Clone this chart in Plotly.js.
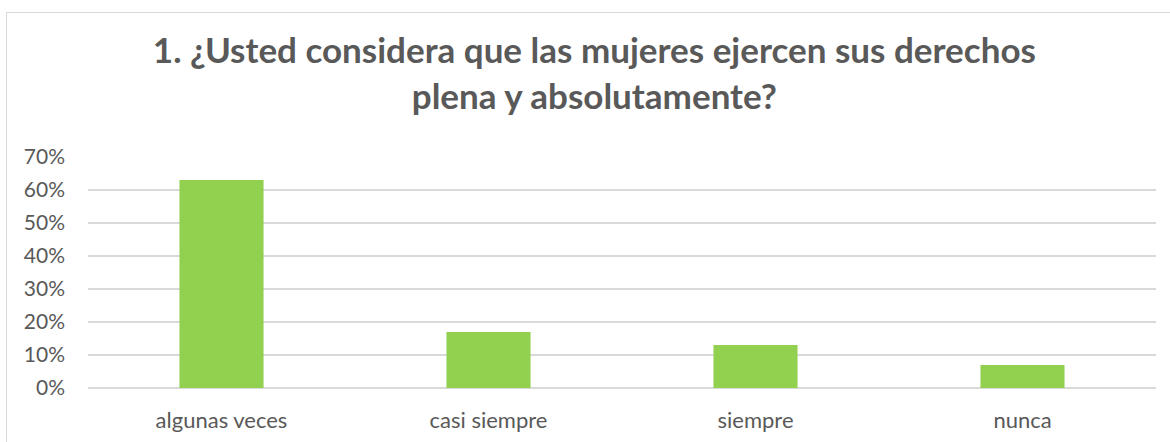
<!DOCTYPE html>
<html>
<head>
<meta charset="utf-8">
<script src="https://cdn.plot.ly/plotly-3.0.1.min.js"></script>
<style>
html,body{margin:0;padding:0;background:#fff;overflow:hidden;}
#wrap{position:relative;width:1170px;height:442px;}
#chart{width:1170px;height:442px;}
#frame{position:absolute;left:6px;top:12px;width:1200px;height:500px;border:1px solid #d9d9d9;pointer-events:none;box-sizing:border-box;}
</style>
</head>
<body>
<div id="wrap">
<div id="chart"></div>
<div id="frame"></div>
</div>
<script>
const categories = ["algunas veces", "casi siempre", "siempre", "nunca"];
const values = [0.63, 0.17, 0.13, 0.07];
const yTicks = [0, 0.1, 0.2, 0.3, 0.4, 0.5, 0.6, 0.7];
const titleText = "1. ¿Usted considera que las mujeres ejercen sus derechos<br>plena y absolutamente?";

const trace = {
  type: "bar",
  x: categories,
  y: values,
  width: 0.315,
  marker: {color: "#92D050", line: {width: 0}},
  hoverinfo: "skip"
};

const layout = {
  width: 1170,
  height: 442,
  margin: {l: 88, r: 14, t: 157, b: 54},
  paper_bgcolor: "#ffffff",
  plot_bgcolor: "#ffffff",
  showlegend: false,
  font: {family: "Lato, 'Open Sans', sans-serif", color: "#595959"},
  title: {
    text: titleText,
    font: {family: "Lato, 'Open Sans', sans-serif", size: 35, color: "#595959", weight: "bold"},
    x: 0.508,
    xanchor: "center",
    y: 0.857,
    yanchor: "top"
  },
  xaxis: {
    type: "category",
    showgrid: false,
    showline: false,
    zeroline: false,
    ticks: "",
    ticklabelstandoff: 17,
    tickfont: {size: 22, color: "#595959"}
  },
  yaxis: {
    range: [0, 0.7],
    tickvals: yTicks,
    tickformat: ".0%",
    showgrid: true,
    gridcolor: "#d9d9d9",
    gridwidth: 1.5,
    zeroline: true,
    zerolinecolor: "#d9d9d9",
    zerolinewidth: 1.5,
    showline: false,
    ticks: "",
    ticklabelstandoff: 22,
    tickfont: {size: 21, color: "#595959"}
  }
};

Plotly.newPlot("chart", [trace], layout, {displayModeBar: false, staticPlot: true});
</script>
</body>
</html>
